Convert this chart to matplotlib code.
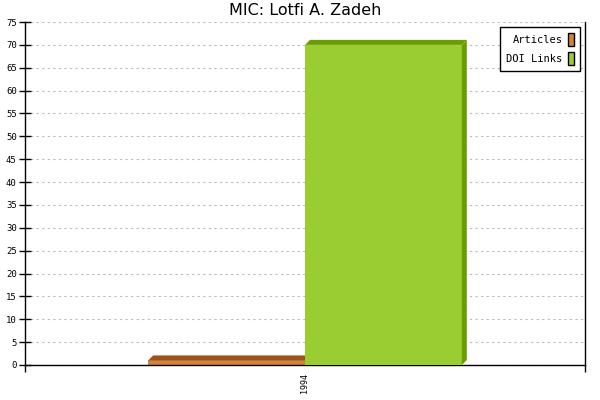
import matplotlib.pyplot as plt
from matplotlib.patches import Patch, Polygon

# data
years = ["1994"]
articles = [1]
doi_links = [70]

mono = "DejaVu Sans Mono"

fig = plt.figure(figsize=(6, 4), dpi=100)
ax = fig.add_axes([25/600, 35/400, 560/600, 343/400])

w = 0.56
x = [0]
ax.set_xlim(-1, 1)
ax.set_ylim(0, 75)

# depth of the 3d effect, 5 px in data units
dx = 5 * 2 / 560
dy = 5 * 75 / 343


def bar3d(left, h, front, dark, z):
    ax.bar(left, h, width=w, align="edge", color=front, zorder=z)
    r = left + w
    ax.add_patch(Polygon([(left, h), (r, h), (r + dx, h + dy), (left + dx, h + dy)],
                         closed=True, facecolor=dark, edgecolor="none", zorder=z))
    ax.add_patch(Polygon([(r, 0), (r, h), (r + dx, h + dy), (r + dx, dy)],
                         closed=True, facecolor=dark, edgecolor="none", zorder=z))


for i, v in zip(x, articles):
    bar3d(i - w, v, "#d2843f", "#9a5418", 2)
for i, v in zip(x, doi_links):
    bar3d(i, v, "#9acd32", "#6a9e00", 4)

ax.set_yticks(range(0, 80, 5))
ax.set_xticks([-1, 1])
ax.set_xticklabels(["", ""])
ax.set_xticks(x, minor=True)
ax.set_xticklabels(years, minor=True, rotation=90, fontfamily=mono, fontsize=6)
ax.tick_params(axis="x", which="minor", length=0, pad=6)
ax.tick_params(axis="y", direction="inout", length=8, width=1, labelsize=6.5, pad=2)
ax.tick_params(axis="x", which="major", direction="out", length=5, width=1)
for lbl in ax.get_yticklabels():
    lbl.set_fontfamily(mono)

ax.grid(axis="y", color="#bbbbbb", linestyle=(0, (2, 3)), linewidth=0.8, zorder=0)
ax.set_axisbelow(True)
ax.spines["top"].set_visible(False)
for s in ["left", "bottom", "right"]:
    ax.spines[s].set_linewidth(1)

ax.set_title("MIC: Lotfi A. Zadeh", fontsize=11.5, pad=5)

handles = [Patch(facecolor="#d2843f", edgecolor="black", linewidth=1),
           Patch(facecolor="#9acd32", edgecolor="black", linewidth=1)]
leg = ax.legend(handles, ["Articles", "DOI Links"], loc="upper right",
                markerfirst=False, fancybox=False, framealpha=1,
                edgecolor="black", prop={"family": mono, "size": 7.5},
                handlelength=0.6, handleheight=1.6, handletextpad=0.5,
                borderaxespad=0.45, labelspacing=0.5, borderpad=0.6)
leg.get_frame().set_linewidth(1)
leg.set_zorder(10)

plt.savefig("out.png", dpi=100)
